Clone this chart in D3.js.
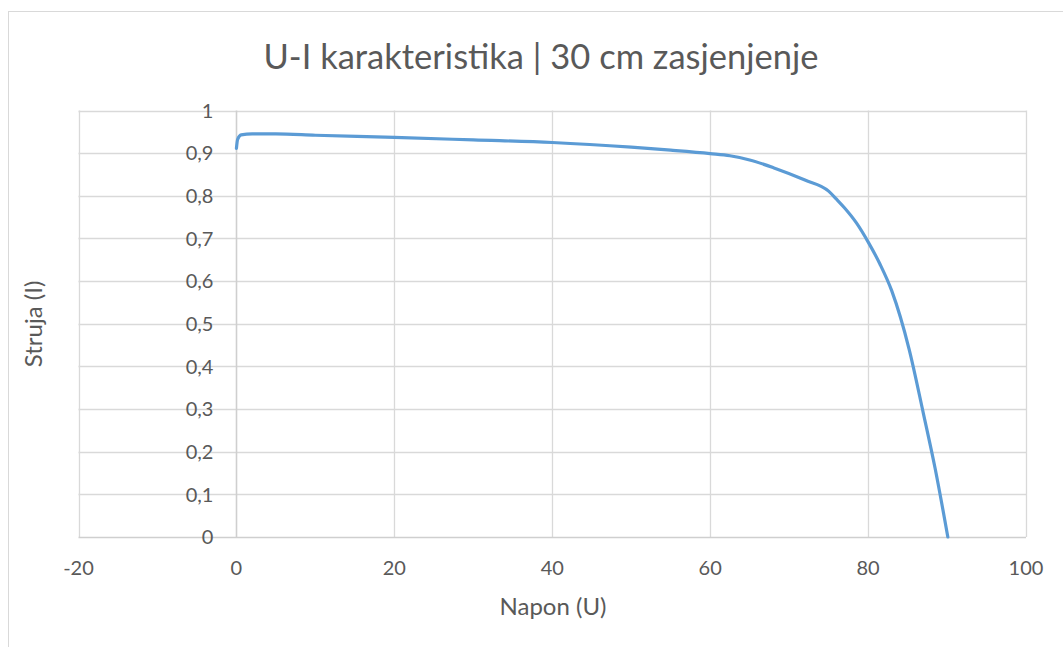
<!DOCTYPE html>
<html>
<head>
<meta charset="utf-8">
<script src="https://cdn.jsdelivr.net/npm/d3@7"></script>
<style>
  html, body { margin: 0; padding: 0; background: #fff; }
  svg { display: block; font-family: Lato, "Open Sans", sans-serif; }
</style>
</head>
<body>
<svg id="chart" width="1063" height="647"></svg>
<script>
// Measured voltage (U) and current (I) for the 30 cm shading case
const napon = [0, 0.15, 0.6, 2, 5, 10, 20, 30, 40, 50, 55, 60, 62.5, 65, 68, 72, 75, 76, 77, 78.5, 80, 81.5, 83, 85.2, 87, 88.5, 90.1];
const struja = [0.911, 0.932, 0.943, 0.945, 0.945, 0.942, 0.937, 0.931, 0.925, 0.914, 0.907, 0.899, 0.894, 0.884, 0.866, 0.837, 0.811, 0.792, 0.772, 0.737, 0.692, 0.640, 0.577, 0.44, 0.29, 0.16, 0.0];

const xTicks = [-20, 0, 20, 40, 60, 80, 100];
const yTicks = [0, 0.1, 0.2, 0.3, 0.4, 0.5, 0.6, 0.7, 0.8, 0.9, 1];

const title = "U-I karakteristika | 30 cm zasjenjenje";
const xTitle = "Napon (U)";
const yTitle = "Struja (I)";

const svg = d3.select("#chart");
const W = 1063, H = 647;
const plot = { left: 78.5, right: 1026, top: 110.5, bottom: 537 };

// outer chart frame
svg.append("rect")
  .attr("x", 8.5).attr("y", 11.5)
  .attr("width", W + 10).attr("height", H + 10)
  .attr("fill", "#fff").attr("stroke", "#d9d9d9").attr("stroke-width", 1);

const x = d3.scaleLinear().domain([-20, 100]).range([plot.left, plot.right]);
const y = d3.scaleLinear().domain([0, 1]).range([plot.bottom, plot.top]);

const grid = svg.append("g");
// horizontal gridlines
grid.selectAll("line.h").data(yTicks.filter(d => d > 0)).join("line")
  .attr("x1", plot.left).attr("x2", plot.right)
  .attr("y1", d => Math.round(y(d)) + 0.5).attr("y2", d => Math.round(y(d)) + 0.5)
  .attr("stroke", "#d9d9d9").attr("stroke-width", 1.3);
// vertical gridlines
grid.selectAll("line.v").data(xTicks.filter(d => d !== 0)).join("line")
  .attr("x1", d => Math.round(x(d)) + 0.5).attr("x2", d => Math.round(x(d)) + 0.5)
  .attr("y1", plot.top).attr("y2", plot.bottom)
  .attr("stroke", "#d9d9d9").attr("stroke-width", 1.3);

// axis lines: value axis at U = 0 and category axis at I = 0
svg.append("line")
  .attr("x1", Math.round(x(0)) + 0.5).attr("x2", Math.round(x(0)) + 0.5)
  .attr("y1", plot.top).attr("y2", plot.bottom)
  .attr("stroke", "#cfcfcf").attr("stroke-width", 1.6);
svg.append("line")
  .attr("x1", plot.left).attr("x2", plot.right)
  .attr("y1", Math.round(y(0)) + 0.5).attr("y2", Math.round(y(0)) + 0.5)
  .attr("stroke", "#cfcfcf").attr("stroke-width", 1.6);

// tick labels
const fmt = d => d3.format(".1~f")(d).replace(".", ",");
svg.append("g").selectAll("text").data(yTicks).join("text")
  .attr("x", x(0) - 23).attr("y", d => y(d))
  .attr("dy", "0.36em").attr("text-anchor", "end")
  .attr("font-size", 20).attr("fill", "#595959")
  .text(fmt);
svg.append("g").selectAll("text").data(xTicks).join("text")
  .attr("x", d => x(d)).attr("y", 575)
  .attr("text-anchor", "middle")
  .attr("font-size", 20).attr("fill", "#595959")
  .text(d => d);

// the U-I curve
const line = d3.line()
  .x((d, i) => x(napon[i]))
  .y(d => y(d))
  .curve(d3.curveMonotoneX);
svg.append("path")
  .datum(struja)
  .attr("d", line)
  .attr("fill", "none")
  .attr("stroke", "#5b9bd5")
  .attr("stroke-width", 3.2)
  .attr("stroke-linejoin", "round")
  .attr("stroke-linecap", "round");

// titles
svg.append("text")
  .attr("x", 541).attr("y", 69)
  .attr("text-anchor", "middle")
  .attr("font-size", 34.5).attr("fill", "#595959")
  .text(title);
svg.append("text")
  .attr("x", 553).attr("y", 615)
  .attr("text-anchor", "middle")
  .attr("font-size", 24).attr("fill", "#595959")
  .text(xTitle);
svg.append("text")
  .attr("transform", "translate(42,324) rotate(-90)")
  .attr("text-anchor", "middle")
  .attr("font-size", 24).attr("fill", "#595959")
  .text(yTitle);
</script>
</body>
</html>
